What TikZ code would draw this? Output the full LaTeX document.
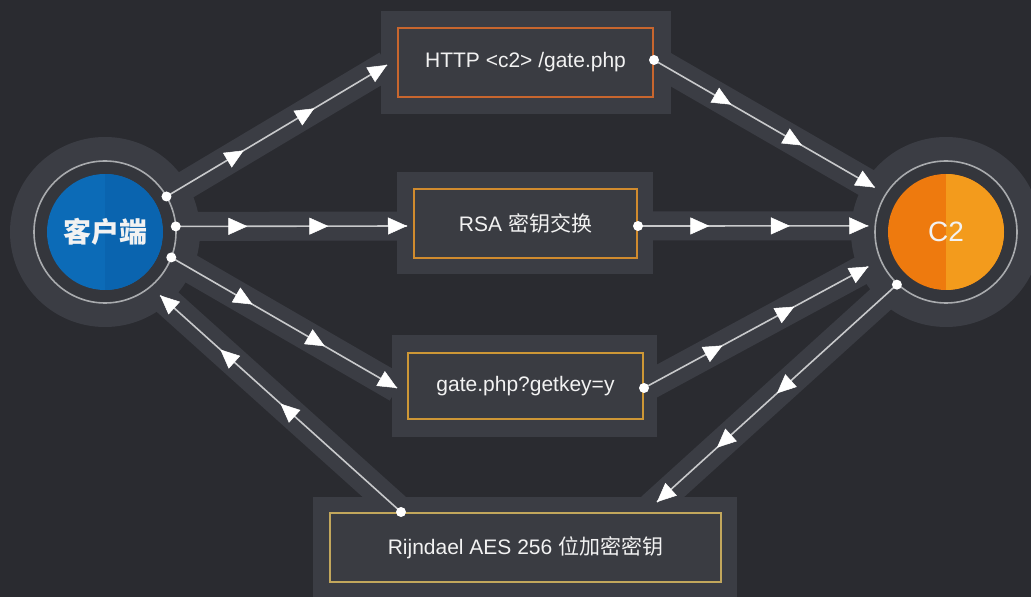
\documentclass[tikz,border=0pt]{standalone}
\usepackage{fontspec}
\setmainfont{Liberation Sans}
\newfontfamily\cjk{Noto Sans CJK SC}
\usetikzlibrary{arrows.meta,decorations.markings,calc}
\definecolor{bgc}{HTML}{2A2B30}
\definecolor{bandc}{HTML}{3B3D44}
\definecolor{innerc}{HTML}{34363C}
\definecolor{ringc}{HTML}{A9ABAE}
\definecolor{boxfill}{HTML}{3A3C42}
\definecolor{linec}{HTML}{C8C9CB}
\definecolor{bonec}{HTML}{C8662E}
\definecolor{btwoc}{HTML}{D08B2E}
\definecolor{bthreec}{HTML}{CD9736}
\definecolor{bfourc}{HTML}{C2A75C}
\definecolor{bluel}{HTML}{0C6BB7}
\definecolor{bluer}{HTML}{0A64AF}
\definecolor{orangel}{HTML}{EE7A0E}
\definecolor{oranger}{HTML}{F39B1C}
\definecolor{textc}{HTML}{F2F2F2}
\pgfdeclarelayer{bglayer}
\pgfsetlayers{bglayer,main}
\tikzset{wt/.tip={Triangle[length=19pt,width=17pt,color=white,fill=white,line width=0.5pt]}}
\begin{document}
\begin{tikzpicture}[x=1pt,y=1pt,
  band/.style={draw=bandc,line width=29pt},
  halo/.style={fill=bandc},
  disc/.style={circle,minimum size=116pt,inner sep=0pt,text=textc},
  msgbox/.style={draw=#1,line width=2pt,fill=boxfill,inner sep=0pt,text=textc,
     font=\fontsize{21}{25}\selectfont},
  conn/.style 2 args={draw=linec,line width=1.6pt,postaction={decorate},
     decoration={markings,
       mark=at position #1 with {\arrow{wt}},
       mark=at position #2 with {\arrow{wt}},
       mark=at position 1 with {\arrow{wt}}}},
  dot/.style={fill=white}]
\useasboundingbox (0,0) rectangle (1031,597);

% rings
\fill[innerc] (105,365) circle (71);
\draw[ringc,line width=1.6pt] (105,365) circle (71);
\fill[innerc] (946,365) circle (71);
\draw[ringc,line width=1.6pt] (946,365) circle (71);

% main nodes
\node[disc,fill=bluel,
  path picture={\fill[bluer] (path picture bounding box.north) rectangle (path picture bounding box.south east);},
  font=\cjk\bfseries\fontsize{28}{30}\selectfont] (client) at (105,365) {客户端};
\node[disc,fill=orangel,
  path picture={\fill[oranger] (path picture bounding box.north) rectangle (path picture bounding box.south east);},
  font=\fontsize{28}{30}\selectfont] (c2) at (946,365) {C2};

\node[msgbox=bonec,minimum width=255pt,minimum height=69pt] (b1) at (525.5,534.5) {HTTP <c2> /gate.php};
\node[msgbox=btwoc,minimum width=223pt,minimum height=69pt] (b2) at (525.5,373.5) {RSA {\cjk 密钥交换}};
\node[msgbox=bthreec,minimum width=235pt,minimum height=66pt] (b3) at (525.5,211) {gate.php?getkey=y};
\node[msgbox=bfourc,minimum width=391pt,minimum height=69pt] (b4) at (525.5,49.5) {Rijndael AES 256 {\cjk 位加密密钥}};

% connector ends
\coordinate (a1s) at ($(client.center)+(30:71)$);
\coordinate (a1e) at ($(b1.west)+(-10,-2.5)$);
\coordinate (a2s) at ($(b1.east)+(0,2.5)$);
\coordinate (a2e) at ($(c2.center)+(148:84)$);
\coordinate (a3s) at ($(client.center)+(4.5:71)$);
\coordinate (a3e) at ($(b2.west)+(-6,-2.5)$);
\coordinate (a4s) at ($(b2.east)+(0,-2.5)$);
\coordinate (a4e) at ($(c2.center)+(175.5:78)$);
\coordinate (a5s) at ($(client.center)+(-21:71)$);
\coordinate (a5e) at ($(b3.west)+(-10,-2)$);
\coordinate (a6s) at ($(b3.east)+(0,-2)$);
\coordinate (a6e) at ($(c2.center)+(-156:85)$);
\coordinate (a7s) at ($(c2.center)+(-133:72)$);
\coordinate (a7e) at ($(b4.north)+(131.5,10)$);
\coordinate (a8s) at ($(b4.north)+(-124.5,0)$);
\coordinate (a8e) at ($(client.center)+(-49:84)$);

% background layer
\begin{pgfonlayer}{bglayer}
\fill[bgc] (0,0) rectangle (1031,597);
\fill[halo] (client.center) circle (95);
\fill[halo] (c2.center) circle (95);
\fill[halo] ($(b1.center)+(-145,-51.5)$) rectangle ($(b1.center)+(145,51.5)$);
\fill[halo] ($(b2.center)+(-128.5,-51)$) rectangle ($(b2.center)+(127.5,51)$);
\fill[halo] ($(b3.center)+(-133.5,-51)$) rectangle ($(b3.center)+(131.5,51)$);
\fill[halo] ($(b4.center)+(-212.5,-50)$) rectangle ($(b4.center)+(211.5,50)$);
\draw[band] (a1s) -- (a1e);
\draw[band] (a2s) -- (a2e);
\draw[band] (a3s) -- (a3e);
\draw[band] (a4s) -- (a4e);
\draw[band] (a5s) -- (a5e);
\draw[band] (a6s) -- (a6e);
\draw[band] ($(a7s)!-5pt!(a7e)$) -- ($(a7e)!-8pt!(a7s)$);
\draw[band] (a8s) -- (a8e);
\end{pgfonlayer}

% connectors
\path[conn={0.35}{0.67}] (a1s) -- (a1e);
\path[conn={0.35}{0.67}] (a2s) -- (a2e);
\path[conn={0.31}{0.66}] (a3s) -- (a3e);
\path[conn={0.31}{0.66}] (a4s) -- (a4e);
\path[conn={0.36}{0.68}] (a5s) -- (a5e);
\path[conn={0.35}{0.67}] (a6s) -- (a6e);
\path[conn={0.5}{0.75}] (a7s) -- (a7e);
\path[conn={0.5}{0.75}] (a8s) -- (a8e);

% dots
\foreach \p in {a1s,a2s,a3s,a4s,a5s,a6s,a7s,a8s}
  \fill[dot] (\p) circle (5);
\end{tikzpicture}
\end{document}
